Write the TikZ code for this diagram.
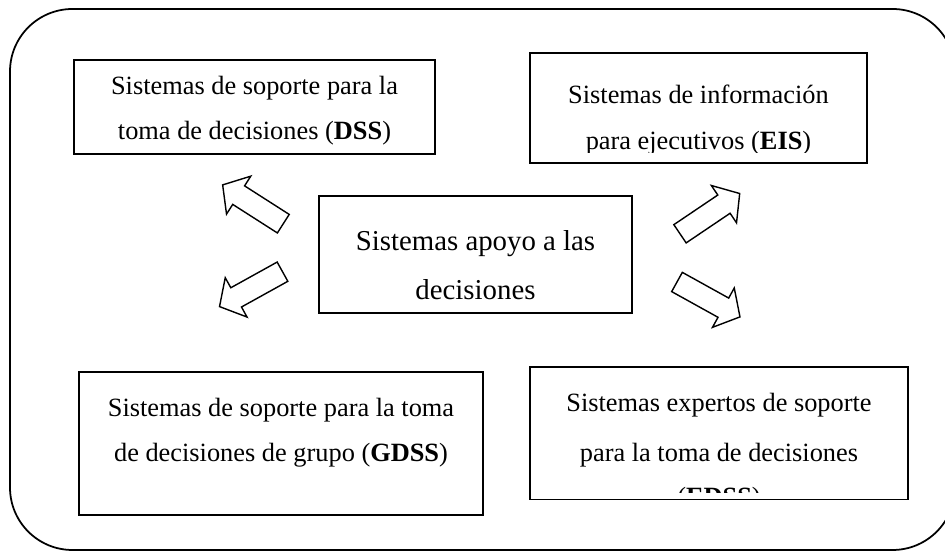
\documentclass[tikz,border=0pt]{standalone}
\usepackage{fontspec}
\setmainfont{Liberation Serif}
\usepackage{xcolor}
\definecolor{frameBlack}{RGB}{0, 0, 0}

\begin{document}
\begin{tikzpicture}[
    box/.style={draw=frameBlack,line width=0.8pt,fill=white,inner sep=0pt},
    boxtext/.style={align=center,inner sep=0pt,anchor=base,font=\fontsize{15pt}{0.9cm}\selectfont},
    arrowline/.style={draw=frameBlack,line width=0.8pt,fill=white,line join=miter},
    blockarrow/.pic={\draw[arrowline] (0,-0.22) -- (1.06,-0.22) -- (1.06,-0.45) -- (1.44,0) -- (1.06,0.45) -- (1.06,0.22) -- (0,0.22) -- cycle;}
]
    \useasboundingbox (0,0) rectangle (18.9,11.04);
    \clip (0,0) rectangle (18.9,11.04);

    % Outer frame
    \draw[frameBlack,line width=1pt,rounded corners=1.25cm] (0.2,0.04) rectangle (19.1,10.86);

    % Boxes
    \node[box,minimum width=7.22cm,minimum height=1.88cm] (dss) at (5.09,8.9) {};
    \node[box,minimum width=6.74cm,minimum height=2.2cm] (eis) at (13.97,8.88) {};
    \node[box,minimum width=6.26cm,minimum height=2.34cm] (core) at (9.51,5.95) {};
    \node[box,minimum width=8.08cm,minimum height=2.86cm] (gdss) at (5.62,2.17) {};
    \node[box,minimum width=7.56cm,minimum height=2.65cm] (edss) at (14.38,2.375) {};

    % Texts (base = last line)
    \node[boxtext] (dsstext) at ([yshift=-1.60cm]dss.north) {Sistemas de soporte para la\\toma de decisiones (\textbf{DSS})};
    \begin{scope}
        \clip ([yshift=0.22cm]eis.south west) rectangle (eis.north east);
        \node[boxtext,font=\fontsize{15pt}{0.92cm}\selectfont] (eistext) at ([yshift=-1.94cm]eis.north) {Sistemas de información\\para ejecutivos (\textbf{EIS})};
    \end{scope}
    \node[boxtext,font=\fontsize{16.4pt}{0.966cm}\selectfont] (coretext) at ([yshift=-2.08cm]core.north) {Sistemas apoyo a las\\decisiones};
    \node[boxtext] (gdsstext) at ([yshift=-1.80cm]gdss.north) {Sistemas de soporte para la toma\\de decisiones de grupo (\textbf{GDSS})};
    \begin{scope}
        \clip ([yshift=0.15cm]edss.south west) rectangle (edss.north east);
        \node[boxtext,font=\fontsize{15pt}{1cm}\selectfont] (edsstext) at ([yshift=-2.78cm]edss.north) {Sistemas expertos de soporte\\para la toma de decisiones\\[-0.126cm](\textbf{EDSS})};
    \end{scope}

    % Block arrows
    \pic[rotate=147.4] at (5.666,6.566) {blockarrow};
    \pic[rotate=209] at (5.65,5.606) {blockarrow};
    \pic[rotate=34] at (13.6,6.364) {blockarrow};
    \pic[rotate=-29] at (13.54,5.40) {blockarrow};
\end{tikzpicture}
\end{document}
